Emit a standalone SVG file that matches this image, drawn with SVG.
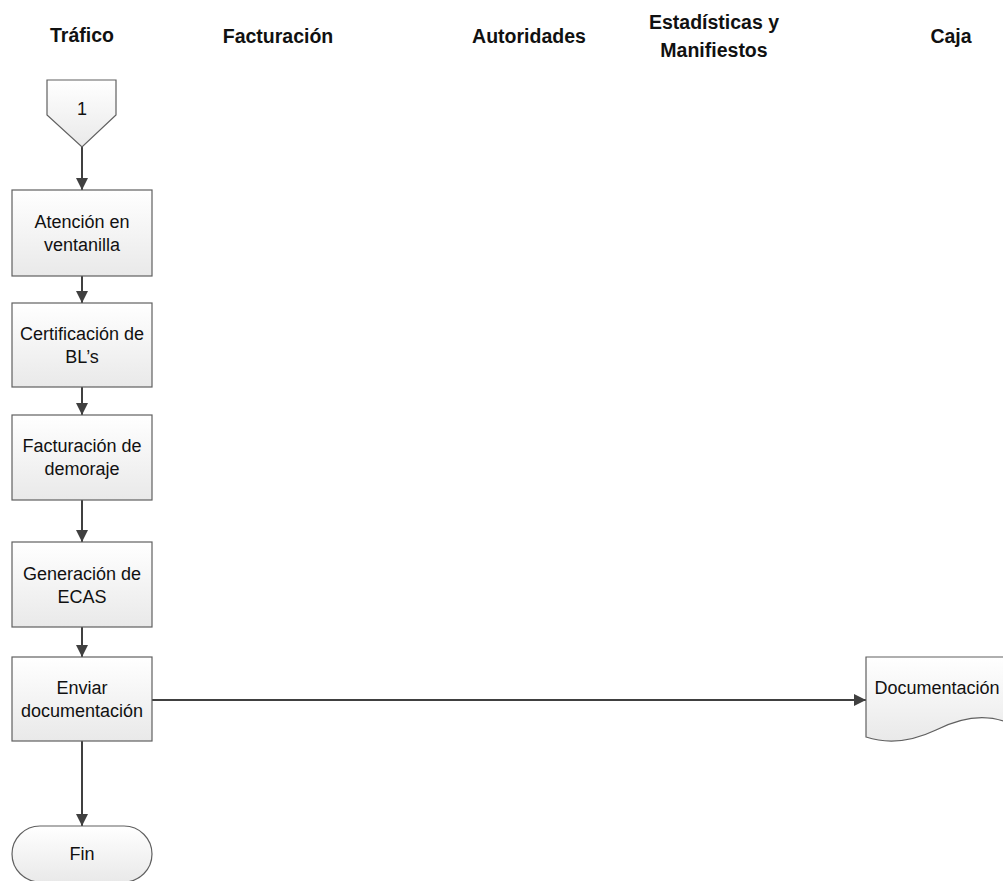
<svg xmlns="http://www.w3.org/2000/svg" width="1003" height="881" viewBox="0 0 1003 881">
  <defs>
    <linearGradient id="fillGrad" x1="0" y1="0" x2="0" y2="1">
      <stop offset="0" stop-color="#ffffff"/>
      <stop offset="1" stop-color="#e9e9e9"/>
    </linearGradient>
    <marker id="arrow" viewBox="0 0 12 12" refX="12" refY="6" markerWidth="12" markerHeight="12" markerUnits="userSpaceOnUse" orient="auto">
      <path d="M0,0 L12,6 L0,12 Z" fill="#404040"/>
    </marker>
  </defs>
  <style>
    .lane { font-family: "Liberation Sans", Arial, sans-serif; font-weight: bold; font-size: 19.5px; fill: #111; text-anchor: middle; }
    .shape { fill: url(#fillGrad); stroke: #606060; stroke-width: 1.2; }
    .label { font-family: "Liberation Sans", Arial, sans-serif; font-size: 18px; fill: #111; text-anchor: middle; }
    .conn { fill: none; stroke: #404040; stroke-width: 2; marker-end: url(#arrow); }
  </style>

  <rect width="1003" height="881" fill="#ffffff"/>

  <!-- lane headers -->
  <g id="lanes">
    <text class="lane" x="82" y="42">Tráfico</text>
    <text class="lane" x="278" y="43">Facturación</text>
    <text class="lane" x="529" y="43">Autoridades</text>
    <text class="lane" x="714" y="29">Estadísticas y</text>
    <text class="lane" x="714" y="57">Manifiestos</text>
    <text class="lane" x="951" y="43">Caja</text>
  </g>

  <!-- connectors -->
  <g id="connectors">
    <line class="conn" x1="82" y1="147" x2="82" y2="190"/>
    <line class="conn" x1="82" y1="276" x2="82" y2="303"/>
    <line class="conn" x1="82" y1="387" x2="82" y2="415"/>
    <line class="conn" x1="82" y1="500" x2="82" y2="542"/>
    <line class="conn" x1="82" y1="627" x2="82" y2="657"/>
    <line class="conn" x1="82" y1="741" x2="82" y2="826"/>
    <line class="conn" x1="152" y1="700" x2="866" y2="700"/>
  </g>

  <!-- off-page reference -->
  <g id="offpage-1">
    <polygon class="shape" points="47,80 116,80 116,115 82,147 47,115"/>
    <text class="label" x="82" y="115">1</text>
  </g>

  <g id="atencion">
    <rect class="shape" x="12" y="190" width="140" height="86"/>
    <text class="label" x="82" y="228">Atención en</text>
    <text class="label" x="82" y="251">ventanilla</text>
  </g>

  <g id="certificacion">
    <rect class="shape" x="12" y="303" width="140" height="84"/>
    <text class="label" x="82" y="340">Certificación de</text>
    <text class="label" x="82" y="363">BL’s</text>
  </g>

  <g id="facturacion-demoraje">
    <rect class="shape" x="12" y="415" width="140" height="85"/>
    <text class="label" x="82" y="452">Facturación de</text>
    <text class="label" x="82" y="475">demoraje</text>
  </g>

  <g id="generacion-ecas">
    <rect class="shape" x="12" y="542" width="140" height="85"/>
    <text class="label" x="82" y="580">Generación de</text>
    <text class="label" x="82" y="603">ECAS</text>
  </g>

  <g id="enviar-documentacion">
    <rect class="shape" x="12" y="657" width="140" height="84"/>
    <text class="label" x="82" y="694">Enviar</text>
    <text class="label" x="82" y="717">documentación</text>
  </g>

  <g id="fin">
    <rect class="shape" x="12" y="826" width="140" height="56" rx="28" ry="28"/>
    <text class="label" x="82" y="860">Fin</text>
  </g>

  <g id="documentacion">
    <path class="shape" d="M866,657 H1006 V722 C985,714 960,718 936,730 C915,740 890,745 866,737 Z"/>
    <text class="label" x="937" y="694">Documentación</text>
  </g>
</svg>
